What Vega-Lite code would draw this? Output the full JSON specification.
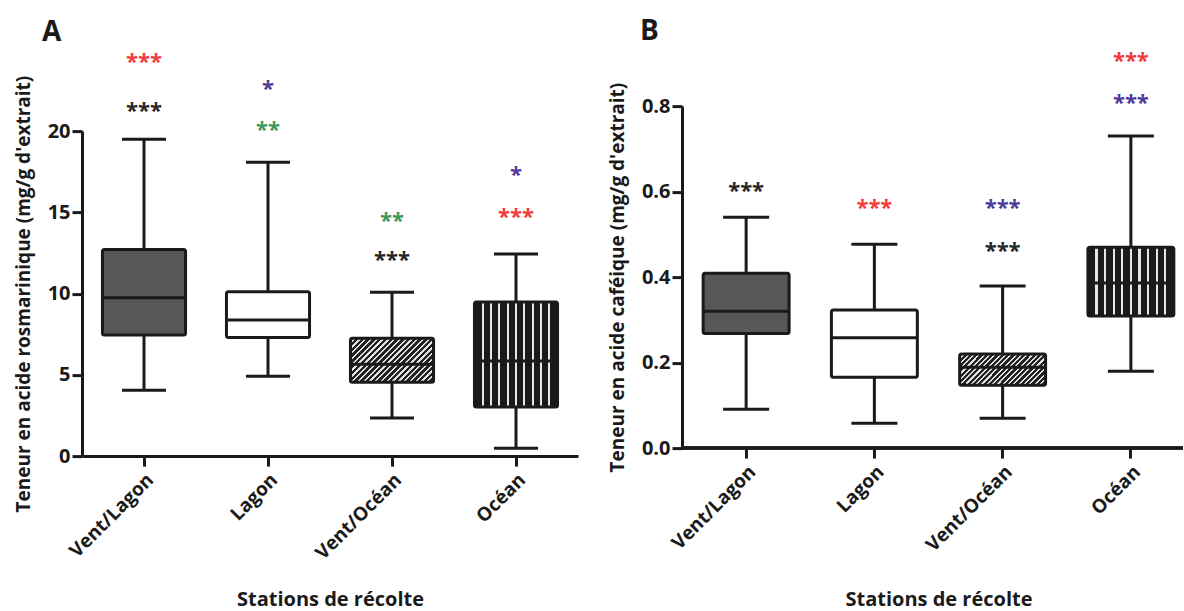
{
  "$schema": "https://vega.github.io/schema/vega-lite/v6.json",
  "padding": {"left": 14, "top": 17, "right": 0, "bottom": 0},
  "background": "white",
  "config": {
    "font": "Open Sans",
    "view": {"stroke": null},
    "tick": {"opacity": 1},
    "axis": {
      "domainColor": "#1a1a1a",
      "domainWidth": 3,
      "tickColor": "#1a1a1a",
      "tickWidth": 3,
      "tickSize": 10,
      "grid": false,
      "labelFont": "Open Sans",
      "labelFontWeight": "bold",
      "labelColor": "#1a1a1a",
      "titleFont": "Open Sans",
      "titleFontWeight": "bold",
      "titleColor": "#1a1a1a"
    }
  },
  "datasets": {
    "boxA": [
      {"station": "Vent/Lagon", "min": 4.05, "q1": 7.45, "median": 9.74, "q3": 12.72, "max": 19.5},
      {"station": "Lagon", "min": 4.92, "q1": 7.3, "median": 8.37, "q3": 10.11, "max": 18.09},
      {"station": "Vent/Océan", "min": 2.34, "q1": 4.55, "median": 5.66, "q3": 7.26, "max": 10.09},
      {"station": "Océan", "min": 0.49, "q1": 3.02, "median": 5.85, "q3": 9.48, "max": 12.43}
    ],
    "starsA": [
      {"station": "Vent/Lagon", "y": 24.49, "stars": "***", "comparaison": "Vent/Lagon vs Océan"},
      {"station": "Vent/Lagon", "y": 21.48, "stars": "***", "comparaison": "Vent/Lagon vs Vent/Océan"},
      {"station": "Lagon", "y": 22.83, "stars": "*", "comparaison": "Lagon vs Océan"},
      {"station": "Lagon", "y": 20.31, "stars": "**", "comparaison": "Lagon vs Vent/Océan"},
      {"station": "Vent/Océan", "y": 14.71, "stars": "**", "comparaison": "Lagon vs Vent/Océan"},
      {"station": "Vent/Océan", "y": 12.31, "stars": "***", "comparaison": "Vent/Lagon vs Vent/Océan"},
      {"station": "Océan", "y": 17.54, "stars": "*", "comparaison": "Lagon vs Océan"},
      {"station": "Océan", "y": 14.95, "stars": "***", "comparaison": "Vent/Lagon vs Océan"}
    ],
    "boxB": [
      {"station": "Vent/Lagon", "min": 0.091, "q1": 0.268, "median": 0.32, "q3": 0.409, "max": 0.54},
      {"station": "Lagon", "min": 0.058, "q1": 0.166, "median": 0.258, "q3": 0.323, "max": 0.477},
      {"station": "Vent/Océan", "min": 0.07, "q1": 0.147, "median": 0.189, "q3": 0.22, "max": 0.379},
      {"station": "Océan", "min": 0.18, "q1": 0.309, "median": 0.386, "q3": 0.47, "max": 0.73}
    ],
    "starsB": [
      {"station": "Vent/Lagon", "y": 0.61, "stars": "***", "comparaison": "Vent/Lagon vs Vent/Océan"},
      {"station": "Lagon", "y": 0.571, "stars": "***", "comparaison": "Lagon vs Océan"},
      {"station": "Vent/Océan", "y": 0.571, "stars": "***", "comparaison": "Vent/Océan vs Océan"},
      {"station": "Vent/Océan", "y": 0.47, "stars": "***", "comparaison": "Vent/Lagon vs Vent/Océan"},
      {"station": "Océan", "y": 0.915, "stars": "***", "comparaison": "Lagon vs Océan"},
      {"station": "Océan", "y": 0.816, "stars": "***", "comparaison": "Vent/Océan vs Océan"}
    ]
  },
  "spacing": 30,
  "center": true,
  "resolve": {"scale": {"color": "independent"}},
  "hconcat": [
    {
      "width": 496,
      "height": 325,
      "title": {"text": "A", "anchor": "start", "frame": "group", "dx": -40, "fontSize": 28, "font": "Open Sans", "fontWeight": "bold", "color": "#1a1a1a", "offset": 4},
      "data": {"name": "boxA"},
      "encoding": {
        "x": {
          "field": "station", "type": "nominal",
          "sort": ["Vent/Lagon", "Lagon", "Vent/Océan", "Océan"],
          "scale": {"paddingInner": 0, "paddingOuter": 0},
          "axis": {"title": "Stations de récolte", "labelAngle": -45, "labelFontSize": 19, "labelPadding": 4, "titleFontSize": 20, "titlePadding": 27}
        }
      },
      "layer": [
        {
          "mark": {"type": "rule", "strokeWidth": 3, "color": "#1a1a1a"},
          "encoding": {
            "y": {"field": "min", "type": "quantitative", "scale": {"domain": [0, 20], "nice": false},
              "axis": {"title": "Teneur en acide rosmarinique (mg/g d'extrait)", "values": [0, 5, 10, 15, 20], "labelFontSize": 20, "labelPadding": 2, "titleFontSize": 19, "titlePadding": 14}},
            "y2": {"field": "max"}
          }
        },
        {"mark": {"type": "tick", "size": 44, "thickness": 3, "color": "#1a1a1a", "opacity": 1}, "encoding": {"y": {"field": "min", "type": "quantitative"}}},
        {"mark": {"type": "tick", "size": 44, "thickness": 3, "color": "#1a1a1a", "opacity": 1}, "encoding": {"y": {"field": "max", "type": "quantitative"}}},
        {
          "transform": [{"filter": "datum.station === 'Vent/Lagon'"}],
          "mark": {"type": "bar", "width": {"band": 0.67}, "fill": "#575757", "stroke": "#1a1a1a", "strokeWidth": 3, "cornerRadius": 2},
          "encoding": {"y": {"field": "q1", "type": "quantitative"}, "y2": {"field": "q3"}}
        },
        {
          "transform": [{"filter": "datum.station === 'Lagon'"}],
          "mark": {"type": "bar", "width": {"band": 0.67}, "fill": "#ffffff", "stroke": "#1a1a1a", "strokeWidth": 3, "cornerRadius": 2},
          "encoding": {"y": {"field": "q1", "type": "quantitative"}, "y2": {"field": "q3"}}
        },
        {
          "transform": [{"filter": "datum.station === 'Vent/Océan'"}],
          "mark": {"type": "bar", "width": {"band": 0.67}, "stroke": "#1a1a1a", "strokeWidth": 3, "cornerRadius": 2,
            "fill": {"gradient": "linear", "x1": 0, "y1": 0, "x2": 1.194, "y2": 0.633, "stops": [
              {"offset": 0, "color": "#222222"}, {"offset": 0.0273, "color": "#222222"}, {"offset": 0.0273, "color": "#e0e0e0"}, {"offset": 0.0455, "color": "#e0e0e0"},
              {"offset": 0.0455, "color": "#222222"}, {"offset": 0.0727, "color": "#222222"}, {"offset": 0.0727, "color": "#e0e0e0"}, {"offset": 0.0909, "color": "#e0e0e0"},
              {"offset": 0.0909, "color": "#222222"}, {"offset": 0.1182, "color": "#222222"}, {"offset": 0.1182, "color": "#e0e0e0"}, {"offset": 0.1364, "color": "#e0e0e0"},
              {"offset": 0.1364, "color": "#222222"}, {"offset": 0.1636, "color": "#222222"}, {"offset": 0.1636, "color": "#e0e0e0"}, {"offset": 0.1818, "color": "#e0e0e0"},
              {"offset": 0.1818, "color": "#222222"}, {"offset": 0.2091, "color": "#222222"}, {"offset": 0.2091, "color": "#e0e0e0"}, {"offset": 0.2273, "color": "#e0e0e0"},
              {"offset": 0.2273, "color": "#222222"}, {"offset": 0.2545, "color": "#222222"}, {"offset": 0.2545, "color": "#e0e0e0"}, {"offset": 0.2727, "color": "#e0e0e0"},
              {"offset": 0.2727, "color": "#222222"}, {"offset": 0.3, "color": "#222222"}, {"offset": 0.3, "color": "#e0e0e0"}, {"offset": 0.3182, "color": "#e0e0e0"},
              {"offset": 0.3182, "color": "#222222"}, {"offset": 0.3455, "color": "#222222"}, {"offset": 0.3455, "color": "#e0e0e0"}, {"offset": 0.3636, "color": "#e0e0e0"},
              {"offset": 0.3636, "color": "#222222"}, {"offset": 0.3909, "color": "#222222"}, {"offset": 0.3909, "color": "#e0e0e0"}, {"offset": 0.4091, "color": "#e0e0e0"},
              {"offset": 0.4091, "color": "#222222"}, {"offset": 0.4364, "color": "#222222"}, {"offset": 0.4364, "color": "#e0e0e0"}, {"offset": 0.4545, "color": "#e0e0e0"},
              {"offset": 0.4545, "color": "#222222"}, {"offset": 0.4818, "color": "#222222"}, {"offset": 0.4818, "color": "#e0e0e0"}, {"offset": 0.5, "color": "#e0e0e0"},
              {"offset": 0.5, "color": "#222222"}, {"offset": 0.5273, "color": "#222222"}, {"offset": 0.5273, "color": "#e0e0e0"}, {"offset": 0.5455, "color": "#e0e0e0"},
              {"offset": 0.5455, "color": "#222222"}, {"offset": 0.5727, "color": "#222222"}, {"offset": 0.5727, "color": "#e0e0e0"}, {"offset": 0.5909, "color": "#e0e0e0"},
              {"offset": 0.5909, "color": "#222222"}, {"offset": 0.6182, "color": "#222222"}, {"offset": 0.6182, "color": "#e0e0e0"}, {"offset": 0.6364, "color": "#e0e0e0"},
              {"offset": 0.6364, "color": "#222222"}, {"offset": 0.6636, "color": "#222222"}, {"offset": 0.6636, "color": "#e0e0e0"}, {"offset": 0.6818, "color": "#e0e0e0"},
              {"offset": 0.6818, "color": "#222222"}, {"offset": 0.7091, "color": "#222222"}, {"offset": 0.7091, "color": "#e0e0e0"}, {"offset": 0.7273, "color": "#e0e0e0"},
              {"offset": 0.7273, "color": "#222222"}, {"offset": 0.7545, "color": "#222222"}, {"offset": 0.7545, "color": "#e0e0e0"}, {"offset": 0.7727, "color": "#e0e0e0"},
              {"offset": 0.7727, "color": "#222222"}, {"offset": 0.8, "color": "#222222"}, {"offset": 0.8, "color": "#e0e0e0"}, {"offset": 0.8182, "color": "#e0e0e0"},
              {"offset": 0.8182, "color": "#222222"}, {"offset": 0.8455, "color": "#222222"}, {"offset": 0.8455, "color": "#e0e0e0"}, {"offset": 0.8636, "color": "#e0e0e0"},
              {"offset": 0.8636, "color": "#222222"}, {"offset": 0.8909, "color": "#222222"}, {"offset": 0.8909, "color": "#e0e0e0"}, {"offset": 0.9091, "color": "#e0e0e0"},
              {"offset": 0.9091, "color": "#222222"}, {"offset": 0.9364, "color": "#222222"}, {"offset": 0.9364, "color": "#e0e0e0"}, {"offset": 0.9545, "color": "#e0e0e0"},
              {"offset": 0.9545, "color": "#222222"}, {"offset": 0.9818, "color": "#222222"}, {"offset": 0.9818, "color": "#e0e0e0"}, {"offset": 1, "color": "#e0e0e0"}
            ]}},
          "encoding": {"y": {"field": "q1", "type": "quantitative"}, "y2": {"field": "q3"}}
        },
        {
          "transform": [{"filter": "datum.station === 'Océan'"}],
          "mark": {"type": "bar", "width": {"band": 0.67}, "stroke": "#1a1a1a", "strokeWidth": 3, "cornerRadius": 2,
            "fill": {"gradient": "linear", "x1": 0, "y1": 0, "x2": 1, "y2": 0, "stops": [
              {"offset": 0, "color": "#1a1a1a"},
              {"offset": 0.0875, "color": "#1a1a1a"}, {"offset": 0.0875, "color": "#e6e6e6"}, {"offset": 0.1125, "color": "#e6e6e6"}, {"offset": 0.1125, "color": "#1a1a1a"},
              {"offset": 0.1875, "color": "#1a1a1a"}, {"offset": 0.1875, "color": "#e6e6e6"}, {"offset": 0.2125, "color": "#e6e6e6"}, {"offset": 0.2125, "color": "#1a1a1a"},
              {"offset": 0.2875, "color": "#1a1a1a"}, {"offset": 0.2875, "color": "#e6e6e6"}, {"offset": 0.3125, "color": "#e6e6e6"}, {"offset": 0.3125, "color": "#1a1a1a"},
              {"offset": 0.3875, "color": "#1a1a1a"}, {"offset": 0.3875, "color": "#e6e6e6"}, {"offset": 0.4125, "color": "#e6e6e6"}, {"offset": 0.4125, "color": "#1a1a1a"},
              {"offset": 0.4875, "color": "#1a1a1a"}, {"offset": 0.4875, "color": "#e6e6e6"}, {"offset": 0.5125, "color": "#e6e6e6"}, {"offset": 0.5125, "color": "#1a1a1a"},
              {"offset": 0.5875, "color": "#1a1a1a"}, {"offset": 0.5875, "color": "#e6e6e6"}, {"offset": 0.6125, "color": "#e6e6e6"}, {"offset": 0.6125, "color": "#1a1a1a"},
              {"offset": 0.6875, "color": "#1a1a1a"}, {"offset": 0.6875, "color": "#e6e6e6"}, {"offset": 0.7125, "color": "#e6e6e6"}, {"offset": 0.7125, "color": "#1a1a1a"},
              {"offset": 0.7875, "color": "#1a1a1a"}, {"offset": 0.7875, "color": "#e6e6e6"}, {"offset": 0.8125, "color": "#e6e6e6"}, {"offset": 0.8125, "color": "#1a1a1a"},
              {"offset": 0.8875, "color": "#1a1a1a"}, {"offset": 0.8875, "color": "#e6e6e6"}, {"offset": 0.9125, "color": "#e6e6e6"}, {"offset": 0.9125, "color": "#1a1a1a"},
              {"offset": 1, "color": "#1a1a1a"}
            ]}},
          "encoding": {"y": {"field": "q1", "type": "quantitative"}, "y2": {"field": "q3"}}
        },
        {"mark": {"type": "tick", "size": 83, "thickness": 3, "color": "#1a1a1a", "opacity": 1}, "encoding": {"y": {"field": "median", "type": "quantitative"}}},
        {
          "data": {"name": "starsA"},
          "mark": {"type": "text", "font": "Open Sans", "fontWeight": "bold", "fontSize": 22, "baseline": "middle", "dy": 4},
          "encoding": {
            "y": {"field": "y", "type": "quantitative"},
            "text": {"field": "stars"},
            "color": {"field": "comparaison", "type": "nominal", "legend": null,
              "scale": {"domain": ["Vent/Lagon vs Océan", "Vent/Lagon vs Vent/Océan", "Lagon vs Océan", "Lagon vs Vent/Océan"], "range": ["#f23c3c", "#262626", "#4f3a9a", "#3d9a5c"]}}
          }
        }
      ]
    },
    {
      "width": 501,
      "height": 342,
      "title": {"text": "B", "anchor": "start", "frame": "group", "dx": -42, "fontSize": 28, "font": "Open Sans", "fontWeight": "bold", "color": "#1a1a1a", "offset": 4},
      "data": {"name": "boxB"},
      "layer": [
        {
          "mark": {"type": "rule", "strokeWidth": 3, "color": "#1a1a1a"},
          "encoding": {
            "x": {
              "field": "station", "type": "nominal",
              "sort": ["Vent/Lagon", "Lagon", "Vent/Océan", "Océan"],
              "scale": {"paddingInner": 0, "paddingOuter": 0, "range": [0, 513]},
              "axis": {"title": ["Stations de récolte", " "], "titleLineHeight": 25, "domain": false, "labelAngle": -45, "labelFontSize": 19, "labelPadding": 4, "titleFontSize": 20, "titlePadding": 35}
            },
            "y": {"field": "min", "type": "quantitative", "scale": {"domain": [0, 0.8], "nice": false},
              "axis": {"title": "Teneur en acide caféique (mg/g d'extrait)", "values": [0, 0.2, 0.4, 0.6, 0.8], "format": ".1f", "labelFontSize": 20, "labelPadding": 2, "titleFontSize": 19, "titlePadding": 14}},
            "y2": {"field": "max"}
          }
        },
        {"mark": {"type": "rule", "strokeWidth": 3, "color": "#1a1a1a"}, "encoding": {"y": {"datum": 0}}},
        {"mark": {"type": "tick", "size": 46, "thickness": 3, "color": "#1a1a1a", "opacity": 1}, "encoding": {"x": {"field": "station", "type": "nominal", "sort": ["Vent/Lagon", "Lagon", "Vent/Océan", "Océan"]}, "y": {"field": "min", "type": "quantitative"}}},
        {"mark": {"type": "tick", "size": 46, "thickness": 3, "color": "#1a1a1a", "opacity": 1}, "encoding": {"x": {"field": "station", "type": "nominal", "sort": ["Vent/Lagon", "Lagon", "Vent/Océan", "Océan"]}, "y": {"field": "max", "type": "quantitative"}}},
        {
          "transform": [{"filter": "datum.station === 'Vent/Lagon'"}],
          "mark": {"type": "bar", "width": {"band": 0.67}, "fill": "#575757", "stroke": "#1a1a1a", "strokeWidth": 3, "cornerRadius": 2},
          "encoding": {"x": {"field": "station", "type": "nominal", "sort": ["Vent/Lagon", "Lagon", "Vent/Océan", "Océan"]}, "y": {"field": "q1", "type": "quantitative"}, "y2": {"field": "q3"}}
        },
        {
          "transform": [{"filter": "datum.station === 'Lagon'"}],
          "mark": {"type": "bar", "width": {"band": 0.67}, "fill": "#ffffff", "stroke": "#1a1a1a", "strokeWidth": 3, "cornerRadius": 2},
          "encoding": {"x": {"field": "station", "type": "nominal", "sort": ["Vent/Lagon", "Lagon", "Vent/Océan", "Océan"]}, "y": {"field": "q1", "type": "quantitative"}, "y2": {"field": "q3"}}
        },
        {
          "transform": [{"filter": "datum.station === 'Vent/Océan'"}],
          "mark": {"type": "bar", "width": {"band": 0.67}, "stroke": "#1a1a1a", "strokeWidth": 3, "cornerRadius": 2,
            "fill": {"gradient": "linear", "x1": 0, "y1": 0, "x2": 1.204, "y2": 0.434, "stops": [
              {"offset": 0, "color": "#222222"}, {"offset": 0.0273, "color": "#222222"}, {"offset": 0.0273, "color": "#e0e0e0"}, {"offset": 0.0455, "color": "#e0e0e0"},
              {"offset": 0.0455, "color": "#222222"}, {"offset": 0.0727, "color": "#222222"}, {"offset": 0.0727, "color": "#e0e0e0"}, {"offset": 0.0909, "color": "#e0e0e0"},
              {"offset": 0.0909, "color": "#222222"}, {"offset": 0.1182, "color": "#222222"}, {"offset": 0.1182, "color": "#e0e0e0"}, {"offset": 0.1364, "color": "#e0e0e0"},
              {"offset": 0.1364, "color": "#222222"}, {"offset": 0.1636, "color": "#222222"}, {"offset": 0.1636, "color": "#e0e0e0"}, {"offset": 0.1818, "color": "#e0e0e0"},
              {"offset": 0.1818, "color": "#222222"}, {"offset": 0.2091, "color": "#222222"}, {"offset": 0.2091, "color": "#e0e0e0"}, {"offset": 0.2273, "color": "#e0e0e0"},
              {"offset": 0.2273, "color": "#222222"}, {"offset": 0.2545, "color": "#222222"}, {"offset": 0.2545, "color": "#e0e0e0"}, {"offset": 0.2727, "color": "#e0e0e0"},
              {"offset": 0.2727, "color": "#222222"}, {"offset": 0.3, "color": "#222222"}, {"offset": 0.3, "color": "#e0e0e0"}, {"offset": 0.3182, "color": "#e0e0e0"},
              {"offset": 0.3182, "color": "#222222"}, {"offset": 0.3455, "color": "#222222"}, {"offset": 0.3455, "color": "#e0e0e0"}, {"offset": 0.3636, "color": "#e0e0e0"},
              {"offset": 0.3636, "color": "#222222"}, {"offset": 0.3909, "color": "#222222"}, {"offset": 0.3909, "color": "#e0e0e0"}, {"offset": 0.4091, "color": "#e0e0e0"},
              {"offset": 0.4091, "color": "#222222"}, {"offset": 0.4364, "color": "#222222"}, {"offset": 0.4364, "color": "#e0e0e0"}, {"offset": 0.4545, "color": "#e0e0e0"},
              {"offset": 0.4545, "color": "#222222"}, {"offset": 0.4818, "color": "#222222"}, {"offset": 0.4818, "color": "#e0e0e0"}, {"offset": 0.5, "color": "#e0e0e0"},
              {"offset": 0.5, "color": "#222222"}, {"offset": 0.5273, "color": "#222222"}, {"offset": 0.5273, "color": "#e0e0e0"}, {"offset": 0.5455, "color": "#e0e0e0"},
              {"offset": 0.5455, "color": "#222222"}, {"offset": 0.5727, "color": "#222222"}, {"offset": 0.5727, "color": "#e0e0e0"}, {"offset": 0.5909, "color": "#e0e0e0"},
              {"offset": 0.5909, "color": "#222222"}, {"offset": 0.6182, "color": "#222222"}, {"offset": 0.6182, "color": "#e0e0e0"}, {"offset": 0.6364, "color": "#e0e0e0"},
              {"offset": 0.6364, "color": "#222222"}, {"offset": 0.6636, "color": "#222222"}, {"offset": 0.6636, "color": "#e0e0e0"}, {"offset": 0.6818, "color": "#e0e0e0"},
              {"offset": 0.6818, "color": "#222222"}, {"offset": 0.7091, "color": "#222222"}, {"offset": 0.7091, "color": "#e0e0e0"}, {"offset": 0.7273, "color": "#e0e0e0"},
              {"offset": 0.7273, "color": "#222222"}, {"offset": 0.7545, "color": "#222222"}, {"offset": 0.7545, "color": "#e0e0e0"}, {"offset": 0.7727, "color": "#e0e0e0"},
              {"offset": 0.7727, "color": "#222222"}, {"offset": 0.8, "color": "#222222"}, {"offset": 0.8, "color": "#e0e0e0"}, {"offset": 0.8182, "color": "#e0e0e0"},
              {"offset": 0.8182, "color": "#222222"}, {"offset": 0.8455, "color": "#222222"}, {"offset": 0.8455, "color": "#e0e0e0"}, {"offset": 0.8636, "color": "#e0e0e0"},
              {"offset": 0.8636, "color": "#222222"}, {"offset": 0.8909, "color": "#222222"}, {"offset": 0.8909, "color": "#e0e0e0"}, {"offset": 0.9091, "color": "#e0e0e0"},
              {"offset": 0.9091, "color": "#222222"}, {"offset": 0.9364, "color": "#222222"}, {"offset": 0.9364, "color": "#e0e0e0"}, {"offset": 0.9545, "color": "#e0e0e0"},
              {"offset": 0.9545, "color": "#222222"}, {"offset": 0.9818, "color": "#222222"}, {"offset": 0.9818, "color": "#e0e0e0"}, {"offset": 1, "color": "#e0e0e0"}
            ]}},
          "encoding": {"x": {"field": "station", "type": "nominal", "sort": ["Vent/Lagon", "Lagon", "Vent/Océan", "Océan"]}, "y": {"field": "q1", "type": "quantitative"}, "y2": {"field": "q3"}}
        },
        {
          "transform": [{"filter": "datum.station === 'Océan'"}],
          "mark": {"type": "bar", "width": {"band": 0.67}, "stroke": "#1a1a1a", "strokeWidth": 3, "cornerRadius": 2,
            "fill": {"gradient": "linear", "x1": 0, "y1": 0, "x2": 1, "y2": 0, "stops": [
              {"offset": 0, "color": "#1a1a1a"},
              {"offset": 0.0875, "color": "#1a1a1a"}, {"offset": 0.0875, "color": "#e6e6e6"}, {"offset": 0.1125, "color": "#e6e6e6"}, {"offset": 0.1125, "color": "#1a1a1a"},
              {"offset": 0.1875, "color": "#1a1a1a"}, {"offset": 0.1875, "color": "#e6e6e6"}, {"offset": 0.2125, "color": "#e6e6e6"}, {"offset": 0.2125, "color": "#1a1a1a"},
              {"offset": 0.2875, "color": "#1a1a1a"}, {"offset": 0.2875, "color": "#e6e6e6"}, {"offset": 0.3125, "color": "#e6e6e6"}, {"offset": 0.3125, "color": "#1a1a1a"},
              {"offset": 0.3875, "color": "#1a1a1a"}, {"offset": 0.3875, "color": "#e6e6e6"}, {"offset": 0.4125, "color": "#e6e6e6"}, {"offset": 0.4125, "color": "#1a1a1a"},
              {"offset": 0.4875, "color": "#1a1a1a"}, {"offset": 0.4875, "color": "#e6e6e6"}, {"offset": 0.5125, "color": "#e6e6e6"}, {"offset": 0.5125, "color": "#1a1a1a"},
              {"offset": 0.5875, "color": "#1a1a1a"}, {"offset": 0.5875, "color": "#e6e6e6"}, {"offset": 0.6125, "color": "#e6e6e6"}, {"offset": 0.6125, "color": "#1a1a1a"},
              {"offset": 0.6875, "color": "#1a1a1a"}, {"offset": 0.6875, "color": "#e6e6e6"}, {"offset": 0.7125, "color": "#e6e6e6"}, {"offset": 0.7125, "color": "#1a1a1a"},
              {"offset": 0.7875, "color": "#1a1a1a"}, {"offset": 0.7875, "color": "#e6e6e6"}, {"offset": 0.8125, "color": "#e6e6e6"}, {"offset": 0.8125, "color": "#1a1a1a"},
              {"offset": 0.8875, "color": "#1a1a1a"}, {"offset": 0.8875, "color": "#e6e6e6"}, {"offset": 0.9125, "color": "#e6e6e6"}, {"offset": 0.9125, "color": "#1a1a1a"},
              {"offset": 1, "color": "#1a1a1a"}
            ]}},
          "encoding": {"x": {"field": "station", "type": "nominal", "sort": ["Vent/Lagon", "Lagon", "Vent/Océan", "Océan"]}, "y": {"field": "q1", "type": "quantitative"}, "y2": {"field": "q3"}}
        },
        {"mark": {"type": "tick", "size": 86, "thickness": 3, "color": "#1a1a1a", "opacity": 1}, "encoding": {"x": {"field": "station", "type": "nominal", "sort": ["Vent/Lagon", "Lagon", "Vent/Océan", "Océan"]}, "y": {"field": "median", "type": "quantitative"}}},
        {
          "data": {"name": "starsB"},
          "mark": {"type": "text", "font": "Open Sans", "fontWeight": "bold", "fontSize": 22, "baseline": "middle", "dy": 4},
          "encoding": {
            "x": {"field": "station", "type": "nominal", "sort": ["Vent/Lagon", "Lagon", "Vent/Océan", "Océan"]},
            "y": {"field": "y", "type": "quantitative"},
            "text": {"field": "stars"},
            "color": {"field": "comparaison", "type": "nominal", "legend": null,
              "scale": {"domain": ["Vent/Lagon vs Vent/Océan", "Lagon vs Océan", "Vent/Océan vs Océan"], "range": ["#262626", "#f23c3c", "#4f3a9a"]}}
          }
        }
      ]
    }
  ]
}
